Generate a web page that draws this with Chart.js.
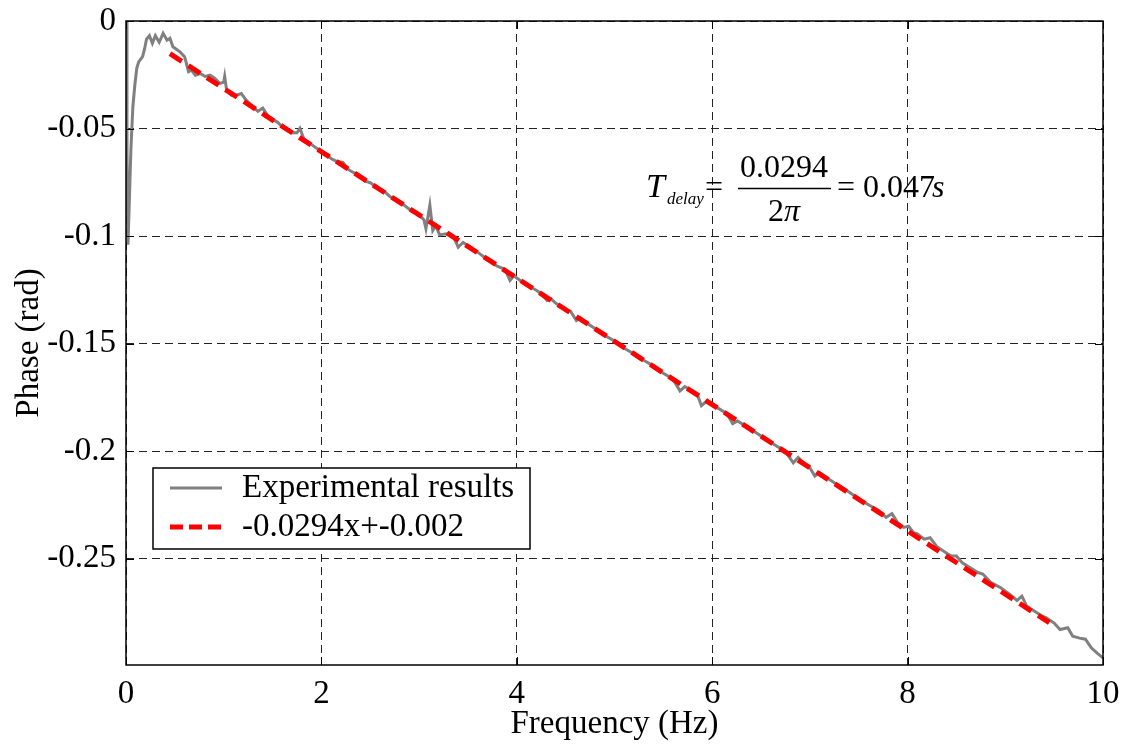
<!DOCTYPE html>
<html>
<head>
<meta charset="utf-8">
<script src="https://cdn.jsdelivr.net/npm/chart.js@4.4.1/dist/chart.umd.min.js"></script>
<style>
  html, body { margin: 0; padding: 0; background: #ffffff; }
  #wrap { width: 1135px; height: 747px; }
</style>
</head>
<body>
<div id="wrap"><canvas id="c" width="1135" height="747"></canvas></div>
<script>
// ---- data ----
const freqHz = [0, 0.01, 0.02, 0.03, 0.05, 0.07, 0.09, 0.11, 0.13, 0.17, 0.19, 0.21, 0.24, 0.27, 0.30, 0.34, 0.38, 0.42, 0.45, 0.48,
  0.55, 0.60, 0.62, 0.64, 0.67, 0.71, 0.76, 0.81, 0.86, 0.91, 0.96, 1.00, 1.01, 1.03, 1.08, 1.13, 1.18, 1.23, 1.30, 1.35,
  1.40, 1.45, 1.50, 1.55, 1.60, 1.65, 1.70, 1.75, 1.78, 1.82, 1.90, 2.00, 2.05, 2.10, 2.15, 2.22, 2.27, 2.30, 2.40, 2.45,
  2.50, 2.60, 2.65, 2.70, 2.80, 2.90, 2.95, 3.00, 3.05, 3.07, 3.11, 3.14, 3.17, 3.21, 3.28, 3.35, 3.40, 3.45, 3.50, 3.60,
  3.70, 3.75, 3.80, 3.88, 3.93, 3.97, 4.00, 4.10, 4.20, 4.25, 4.31, 4.35, 4.40, 4.50, 4.55, 4.61, 4.65, 4.70, 4.80, 4.90,
  5.00, 5.10, 5.20, 5.25, 5.30, 5.40, 5.50, 5.58, 5.62, 5.67, 5.72, 5.80, 5.85, 5.89, 5.95, 6.00, 6.10, 6.15, 6.21, 6.26,
  6.30, 6.40, 6.45, 6.50, 6.60, 6.70, 6.75, 6.83, 6.88, 6.95, 7.00, 7.05, 7.10, 7.20, 7.30, 7.40, 7.50, 7.60, 7.70, 7.78,
  7.84, 7.90, 7.96, 8.01, 8.06, 8.10, 8.17, 8.23, 8.30, 8.40, 8.45, 8.50, 8.56, 8.65, 8.72, 8.77, 8.85, 8.95, 9.05, 9.12,
  9.17, 9.22, 9.30, 9.38, 9.42, 9.50, 9.56, 9.64, 9.69, 9.76, 9.82, 9.88, 9.94, 10.00];
const phaseRad = [0, -0.060, -0.104, -0.090, -0.060, -0.040, -0.030, -0.022, -0.019, -0.0166, -0.013, -0.0085, -0.0068, -0.0104, -0.0068, -0.0099, -0.0057, -0.0089, -0.0080, -0.0120,
  -0.0143, -0.0166, -0.0200, -0.0236, -0.0228, -0.0252, -0.0244, -0.0258, -0.0252, -0.0267, -0.0290, -0.0285, -0.0258, -0.0322, -0.0345, -0.0345, -0.0337, -0.0368, -0.0398, -0.0420,
  -0.0405, -0.0440, -0.0458, -0.0470, -0.0493, -0.0505, -0.0520, -0.0520, -0.0499, -0.0548, -0.0575, -0.0608, -0.0620, -0.0640, -0.0652, -0.0657, -0.0688, -0.0698, -0.0722, -0.0745,
  -0.0752, -0.0788, -0.0795, -0.0816, -0.0840, -0.0875, -0.0888, -0.0900, -0.0925, -0.0966, -0.0857, -0.0974, -0.0952, -0.0995, -0.0990, -0.1000, -0.1052, -0.1030, -0.1045, -0.1075,
  -0.1110, -0.1125, -0.1140, -0.1155, -0.1207, -0.1185, -0.1195, -0.1228, -0.1252, -0.1268, -0.1300, -0.1292, -0.1313, -0.1342, -0.1350, -0.1393, -0.1380, -0.1400, -0.1430, -0.1462,
  -0.1488, -0.1522, -0.1548, -0.1568, -0.1578, -0.1605, -0.1638, -0.1660, -0.1682, -0.1720, -0.1700, -0.1722, -0.1740, -0.1789, -0.1765, -0.1784, -0.1812, -0.1825, -0.1873, -0.1860,
  -0.1872, -0.1900, -0.1915, -0.1930, -0.1960, -0.1988, -0.2003, -0.2055, -0.2030, -0.2062, -0.2078, -0.2116, -0.2100, -0.2132, -0.2162, -0.2190, -0.2222, -0.2250, -0.2275, -0.2308,
  -0.2291, -0.2335, -0.2355, -0.2349, -0.2380, -0.2385, -0.2410, -0.2403, -0.2445, -0.2475, -0.2488, -0.2488, -0.2520, -0.2545, -0.2565, -0.2572, -0.2610, -0.2635, -0.2668, -0.2695,
  -0.2675, -0.2722, -0.2745, -0.2768, -0.2776, -0.2800, -0.2830, -0.2822, -0.2861, -0.2870, -0.2875, -0.2915, -0.2940, -0.2962];
const fitX = [0.45, 9.45];
const fitY = [-0.0152, -0.2798];
const xTicks = [0, 2, 4, 6, 8, 10];
const xTickLabels = ['0', '2', '4', '6', '8', '10'];
const yTicks = [0, -0.05, -0.1, -0.15, -0.2, -0.25];
const yTickLabels = ['0', '-0.05', '-0.1', '-0.15', '-0.2', '-0.25'];
const seriesNames = ['Experimental results', '-0.0294x+-0.002'];

const FONT = '"Liberation Serif", "Times New Roman", serif';
const expColor = '#808080';
const fitColor = '#ff0000';

const expPts = freqHz.map((x, i) => ({ x: x, y: phaseRad[i] }));
const fitPts = fitX.map((x, i) => ({ x: x, y: fitY[i] }));

const boxPlugin = {
  id: 'boxPlugin',
  afterDatasetsDraw(chart) {
    const { ctx, chartArea: a, scales } = chart;
    ctx.save();
    // inward tick marks
    ctx.strokeStyle = '#000';
    ctx.lineWidth = 1;
    const tl = 8;
    xTicks.forEach(v => {
      const px = Math.round(scales.x.getPixelForValue(v)) + 0.5;
      ctx.beginPath();
      ctx.moveTo(px, a.bottom); ctx.lineTo(px, a.bottom - tl);
      ctx.moveTo(px, a.top); ctx.lineTo(px, a.top + tl);
      ctx.stroke();
    });
    yTicks.forEach(v => {
      const py = Math.round(scales.y.getPixelForValue(v)) + 0.5;
      ctx.beginPath();
      ctx.moveTo(a.left, py); ctx.lineTo(a.left + tl, py);
      ctx.moveTo(a.right, py); ctx.lineTo(a.right - tl, py);
      ctx.stroke();
    });
    // axes box
    ctx.lineWidth = 1.5;
    ctx.strokeRect(a.left, a.top, a.right - a.left, a.bottom - a.top);

    // legend
    const lx = 153, ly = 468, lw = 377, lh = 81;
    ctx.fillStyle = '#fff';
    ctx.fillRect(lx, ly, lw, lh);
    ctx.lineWidth = 1.5;
    ctx.strokeStyle = '#000';
    ctx.strokeRect(lx, ly, lw, lh);
    ctx.lineCap = 'butt';
    ctx.strokeStyle = expColor; ctx.lineWidth = 3; ctx.setLineDash([]);
    ctx.beginPath(); ctx.moveTo(170, 488); ctx.lineTo(222, 488); ctx.stroke();
    ctx.strokeStyle = fitColor; ctx.lineWidth = 5; ctx.setLineDash([13, 6]);
    ctx.beginPath(); ctx.moveTo(170, 527); ctx.lineTo(222, 527); ctx.stroke();
    ctx.setLineDash([]);
    ctx.fillStyle = '#000';
    ctx.strokeStyle = '#000';
    ctx.font = '33px ' + FONT;
    ctx.textAlign = 'left';
    ctx.textBaseline = 'middle';
    ctx.fillText(seriesNames[0], 242, 488);
    ctx.fillText(seriesNames[1], 242, 527);

    // equation annotation
    ctx.textBaseline = 'alphabetic';
    ctx.font = 'italic 34px ' + FONT;
    ctx.fillText('T', 646, 197);
    ctx.font = 'italic 17px ' + FONT;
    ctx.fillText('delay', 667, 204);
    ctx.font = '32px ' + FONT;
    ctx.fillText('=', 705, 197);
    ctx.textAlign = 'center';
    ctx.fillText('0.0294', 784, 177);
    ctx.lineWidth = 1.5;
    ctx.beginPath(); ctx.moveTo(738, 188.5); ctx.lineTo(831, 188.5); ctx.stroke();
    ctx.fillText('2', 776, 221);
    ctx.font = 'italic 32px ' + FONT;
    ctx.fillText('\u03C0', 792, 221);
    ctx.font = '32px ' + FONT;
    ctx.textAlign = 'left';
    ctx.fillText('= 0.047', 837, 197);
    ctx.font = 'italic 32px ' + FONT;
    ctx.fillText('s', 932, 197);
    ctx.restore();
  }
};

new Chart(document.getElementById('c'), {
  type: 'line',
  data: {
    datasets: [
      { label: seriesNames[0], data: expPts, borderColor: expColor, borderWidth: 3, pointRadius: 0, fill: false, tension: 0, order: 2 },
      { label: seriesNames[1], data: fitPts, borderColor: fitColor, borderWidth: 5, borderDash: [14, 8], pointRadius: 0, fill: false, tension: 0, order: 1 }
    ]
  },
  options: {
    responsive: false,
    animation: false,
    events: [],
    layout: { padding: { top: 21, right: 32, left: 0, bottom: 0 } },
    plugins: { legend: { display: false }, tooltip: { enabled: false } },
    scales: {
      x: {
        type: 'linear', min: 0, max: 10,
        afterBuildTicks(s) { s.ticks = xTicks.map(v => ({ value: v })); },
        afterFit(s) { s.height = 82; s.paddingLeft = 0; s.paddingRight = 0; },
        ticks: { color: '#000', font: { family: FONT, size: 33 }, padding: 10, maxRotation: 0,
          callback: (v) => { const i = xTicks.indexOf(v); return i >= 0 ? xTickLabels[i] : ''; } },
        grid: { color: '#222', lineWidth: 1, drawTicks: false },
        border: { display: false, dash: [8, 5] },
        title: { display: true, text: 'Frequency (Hz)', color: '#000', font: { family: FONT, size: 33 }, padding: { top: 0, bottom: 3 } }
      },
      y: {
        type: 'linear', min: -0.2995, max: 0,
        afterBuildTicks(s) { s.ticks = yTicks.map(v => ({ value: v })); },
        afterFit(s) { s.width = 126; s.paddingTop = 0; s.paddingBottom = 0; },
        ticks: { color: '#000', font: { family: FONT, size: 33 }, padding: 10,
          callback: (v) => { const i = yTicks.findIndex(t => Math.abs(t - v) < 1e-9); return i >= 0 ? yTickLabels[i] : ''; } },
        grid: { color: '#222', lineWidth: 1, drawTicks: false },
        border: { display: false, dash: [8, 5] },
        title: { display: true, text: 'Phase (rad)', color: '#000', font: { family: FONT, size: 33 }, padding: { top: 10, bottom: 0 } }
      }
    }
  },
  plugins: [boxPlugin]
});
</script>
</body>
</html>
